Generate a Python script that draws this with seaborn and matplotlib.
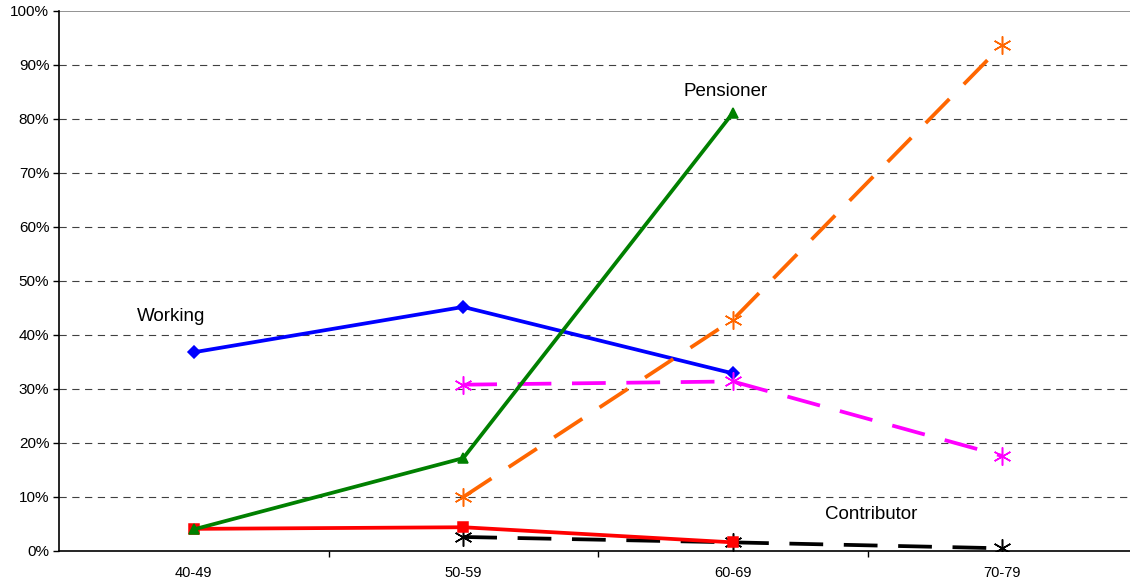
import matplotlib
matplotlib.use("Agg")
import matplotlib.pyplot as plt
import seaborn as sns
import pandas as pd
from matplotlib.ticker import FuncFormatter, FixedLocator

categories = ["40-49", "50-59", "60-69", "70-79"]

working_x = ["40-49", "50-59", "60-69"]
working_y = [36.8, 45.2, 32.9]

pensioner_x = ["40-49", "50-59", "60-69"]
pensioner_y = [4.0, 17.2, 81.1]

red_x = ["40-49", "50-59", "60-69"]
red_y = [4.1, 4.4, 1.6]

orange_x = ["50-59", "60-69", "70-79"]
orange_y = [10.0, 42.8, 93.7]

magenta_x = ["50-59", "60-69", "70-79"]
magenta_y = [30.8, 31.4, 17.6]

black_x = ["50-59", "60-69", "70-79"]
black_y = [2.6, 1.6, 0.5]

labels = ["Working", "Pensioner", "Contributor"]

sns.set_theme(style="white")
plt.rcParams['font.family'] = ['Liberation Sans', 'DejaVu Sans']
plt.rcParams['text.color'] = '#000000'

fig = plt.figure(figsize=(11.30, 5.79), dpi=100)
ax = fig.add_axes([59/1130, 28/579, 1 - 59/1130, (551-11)/579])

pos = {c: i for i, c in enumerate(categories)}
star = (6, 2, 0)

series = [
    (working_x, working_y, "#0000ff", "D", None, 6.5, "-"),
    (orange_x, orange_y, "#ff6600", star, (9, 5.5), 13, "--"),
    (magenta_x, magenta_y, "#ff00ff", star, (9, 5.5), 13, "--"),
    (black_x, black_y, "#000000", star, (9, 5.5), 13, "--"),
    (red_x, red_y, "#ff0000", "s", None, 7.5, "-"),
    (pensioner_x, pensioner_y, "#008000", "^", None, 7.5, "-"),
]

for xs, ys, col, mk, dash, ms, ls in series:
    df = pd.DataFrame({"x": [pos[c] for c in xs], "y": ys})
    sns.lineplot(data=df, x="x", y="y", ax=ax, color=col, marker=mk,
                 markersize=ms, linewidth=2.7, markeredgecolor=col,
                 markeredgewidth=1.1, linestyle=ls, zorder=3)
    line = ax.get_lines()[-1]
    if dash is not None:
        line.set_dashes(dash)

ax.set_xlim(-0.5, 3.474)
ax.set_ylim(0, 100)
ax.set_xlabel("")
ax.set_ylabel("")

ax.set_yticks(range(0, 101, 10))
ax.yaxis.set_major_formatter(FuncFormatter(lambda v, p: f"{int(v)}%"))
ax.set_xticks(range(len(categories)))
ax.set_xticklabels(categories)
ax.xaxis.set_minor_locator(FixedLocator([0.5, 1.5, 2.5]))

ax.tick_params(axis="x", which="major", length=0, labelsize=10.5, pad=11, colors="#000000")
ax.tick_params(axis="x", which="minor", length=4, width=1, colors="#000000", bottom=True)
ax.tick_params(axis="y", which="major", length=4, width=1, labelsize=11, pad=3, left=True, colors="#000000")

for v in range(10, 100, 10):
    ax.axhline(v, color="#404040", linewidth=0.8, linestyle=(0, (6.5, 5)), zorder=1)
ax.axhline(100, color="#808080", linewidth=1.2, zorder=1)

for s in ["top", "right"]:
    ax.spines[s].set_visible(False)
for s in ["left", "bottom"]:
    ax.spines[s].set_color("#000000")
    ax.spines[s].set_linewidth(1.2)

ax.text(-0.085, 43.5, labels[0], fontsize=13.5, ha="center", va="center", color="#000000")
ax.text(1.974, 85.0, labels[1], fontsize=13.5, ha="center", va="center", color="#000000")
ax.text(2.512, 6.7, labels[2], fontsize=13.5, ha="center", va="center", color="#000000")

fig.savefig("out.png", dpi=100)
